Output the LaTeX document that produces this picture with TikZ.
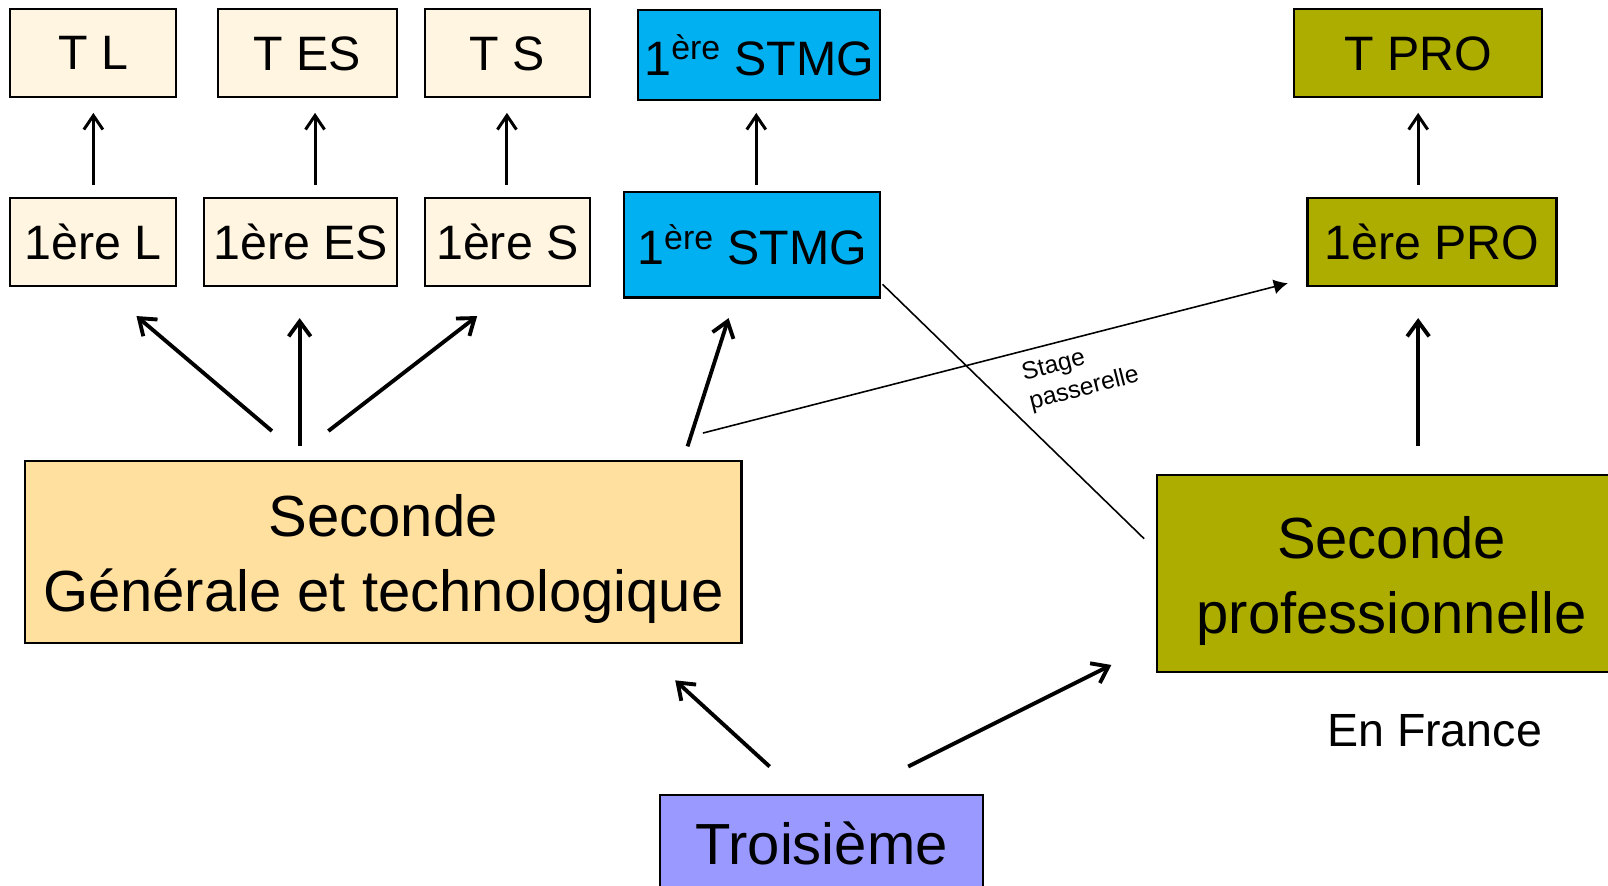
\documentclass[tikz,border=0pt]{standalone}
\usepackage{fontspec}
\setmainfont{Liberation Sans}
\usetikzlibrary{arrows.meta}

\definecolor{creme}{RGB}{255,245,225}
\definecolor{sable}{RGB}{255,224,158}
\definecolor{bleu}{RGB}{0,176,240}
\definecolor{kaki}{RGB}{173,173,0}
\definecolor{lavande}{RGB}{153,153,255}

\begin{document}
\begin{tikzpicture}[x=0.020523cm, y=-0.020523cm,
  box/.style={draw, line width=1.2pt, inner sep=0pt, font=\fontsize{27.5}{33}\selectfont},
  big/.style={draw, line width=1.2pt, inner sep=0pt, align=center, font=\fontsize{33}{42.5}\selectfont},
  fleche/.style={line width=2.2pt, -{Straight Barb[length=3mm,width=4.4mm]}},
  petite/.style={line width=1.7pt, -{Straight Barb[length=2.8mm,width=3.8mm]}},
  fine/.style={line width=0.9pt}]

  \useasboundingbox (0,0) rectangle (1567,863.4);
  \clip (0,0) rectangle (1567,863.4);

  % terminales
  \node [box, fill=creme, minimum width=3.32cm, minimum height=1.76cm] (tl) at (91,52) {T L};
  \node [box, fill=creme, minimum width=3.59cm, minimum height=1.76cm] (tes) at (299.5,52) {T ES};
  \node [box, fill=creme, minimum width=3.30cm, minimum height=1.76cm] (ts) at (494.5,52) {T S};
  \node [box, fill=bleu, minimum width=4.84cm, minimum height=1.80cm] (stmgt) at (740,54) {1\textsuperscript{ère} STMG};
  \node [box, fill=kaki, minimum width=4.96cm, minimum height=1.76cm] (tpro) at (1382,52) {T PRO};

  % premieres
  \node [box, fill=creme, minimum width=3.32cm, minimum height=1.76cm] (l1) at (91,236) {1ère L};
  \node [box, fill=creme, minimum width=3.85cm, minimum height=1.76cm] (es1) at (293,236) {1ère ES};
  \node [box, fill=creme, minimum width=3.30cm, minimum height=1.76cm] (s1) at (494.5,236) {1ère S};
  \node [box, fill=bleu, minimum width=5.13cm, minimum height=2.11cm] (stmg1) at (733,238.5) {1\textsuperscript{ère} STMG};
  \node [box, fill=kaki, minimum width=4.98cm, minimum height=1.76cm] (pro1) at (1395.5,236) {1ère PRO};

  % secondes et troisieme
  \node [big, fill=sable, minimum width=14.33cm, minimum height=3.65cm] (secgt) at (373.5,538)
    {\rule{0pt}{32pt}Seconde\\Générale et technologique};
  \node [big, fill=kaki, minimum width=9.39cm, minimum height=3.94cm] (secpro) at (1356,559)
    {\rule{0pt}{32pt}Seconde\\professionnelle};
  \node [big, fill=lavande, minimum width=6.46cm, minimum height=1.93cm] (troisieme) at (800.5,822)
    {Troisième};
  \node [font=\fontsize{26.5}{32}\selectfont] (france) at (1398,712) {En France};

  % bouts des fleches
  \coordinate (l1-h) at (91,180);     \coordinate (tl-b) at (91,110);
  \coordinate (es1-h) at (307,180);   \coordinate (tes-b) at (307,110);
  \coordinate (s1-h) at (494,180);    \coordinate (ts-b) at (494,110);
  \coordinate (stmg1-h) at (737,180); \coordinate (stmgt-b) at (737,110);
  \coordinate (pro1-h) at (1382,180); \coordinate (tpro-b) at (1382,110);

  \coordinate (gt-l) at (265,420);    \coordinate (l1-b) at (133,308);
  \coordinate (gt-es) at (292,435);   \coordinate (es1-b) at (292,310);
  \coordinate (gt-s) at (320,420);    \coordinate (s1-b) at (465,308);
  \coordinate (gt-stmg) at (670,435); \coordinate (stmg1-b) at (710,310);
  \coordinate (gt-pro) at (685,422);  \coordinate (pro1-g) at (1255,276);
  \coordinate (stmg1-c) at (860,277); \coordinate (secpro-g) at (1115,525);
  \coordinate (secpro-h) at (1382,435); \coordinate (pro1-b) at (1382,310);
  \coordinate (tr-gt) at (750,747);   \coordinate (secgt-b) at (658,663);
  \coordinate (tr-pro) at (885,747);  \coordinate (secpro-b) at (1083,648);

  \draw [petite] (l1-h) -- (tl-b);
  \draw [petite] (es1-h) -- (tes-b);
  \draw [petite] (s1-h) -- (ts-b);
  \draw [petite] (stmg1-h) -- (stmgt-b);
  \draw [petite] (pro1-h) -- (tpro-b);

  \draw [fleche] (gt-l) -- (l1-b);
  \draw [fleche] (gt-es) -- (es1-b);
  \draw [fleche] (gt-s) -- (s1-b);
  \draw [fleche] (gt-stmg) -- (stmg1-b);
  \draw [fleche] (secpro-h) -- (pro1-b);
  \draw [fleche] (tr-gt) -- (secgt-b);
  \draw [fleche] (tr-pro) -- (secpro-b);

  \draw [fine, -{Latex[length=2.8mm,width=3mm]}] (gt-pro) -- node [sloped, pos=0.63, anchor=north,
    inner sep=6pt, align=left, font=\fontsize{14}{17}\selectfont] (stage) {Stage\\passerelle} (pro1-g);
  \draw [fine] (stmg1-c) -- (secpro-g);
\end{tikzpicture}
\end{document}
